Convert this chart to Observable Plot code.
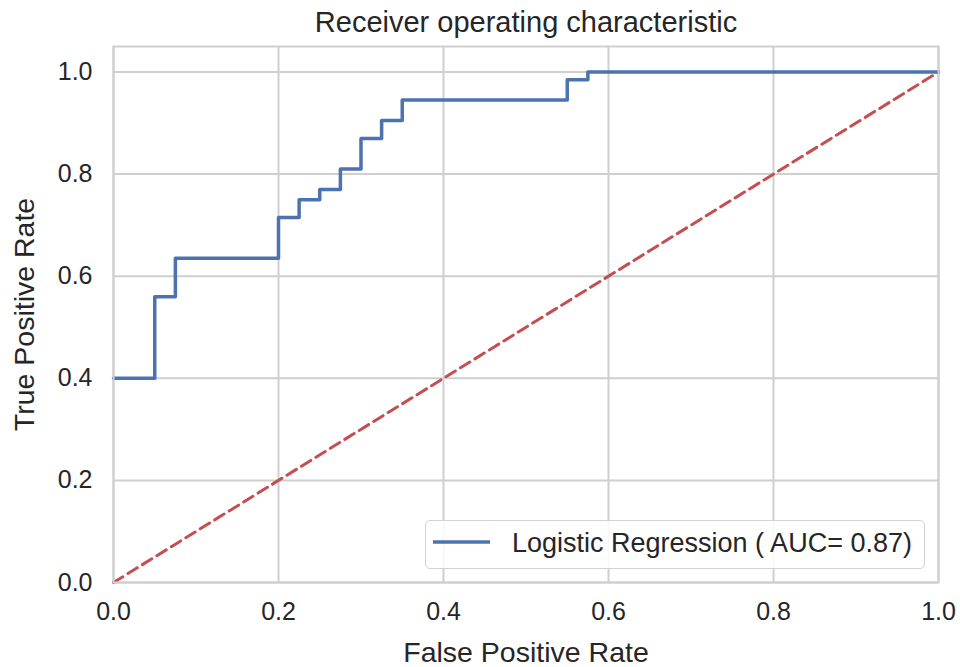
<!DOCTYPE html>
<html>
<head>
<meta charset="utf-8">
<script src="https://cdn.jsdelivr.net/npm/d3@7"></script>
<script src="https://cdn.jsdelivr.net/npm/@observablehq/plot@0.6"></script>
<style>
  html, body { margin: 0; padding: 0; background: #fff; }
  #wrap { position: relative; width: 960px; height: 667px; font-family: "Liberation Sans", Arial, sans-serif; color: #262626; }
  #legend { position: absolute; left: 425px; top: 520px; width: 498px; height: 47px; border: 1px solid #d2d2d2; border-radius: 5px; background: rgba(255,255,255,0.85); }
  #legend svg { position: absolute; left: 6px; top: 14px; }
  #legend span { position: absolute; left: 86px; top: 6px; font-size: 27px; line-height: 32px; white-space: nowrap; color: #262626; }
</style>
</head>
<body>
<div id="wrap"></div>
<script>
// ROC curve vertices (False Positive Rate, True Positive Rate)
const fpr = [0, 0.05, 0.075, 0.2, 0.225, 0.25, 0.275, 0.3, 0.325, 0.35, 0.55, 0.575, 1.0];
const tpr = [0.4, 0.56, 0.635, 0.715, 0.75, 0.77, 0.81, 0.87, 0.905, 0.945, 0.985, 1.0, 1.0];
// chance diagonal
const diagX = [0, 1];
const diagY = [0, 1];
const ticks = [0, 0.2, 0.4, 0.6, 0.8, 1.0];
const titleText = "Receiver operating characteristic";
const xLabel = "False Positive Rate";
const yLabel = "True Positive Rate";
const legendLabel = "Logistic Regression ( AUC= 0.87)";

const roc = fpr.map((x, i) => ({x, y: tpr[i]}));
const diag = diagX.map((x, i) => ({x, y: diagY[i]}));

const blue = "#4c72b0";
const red = "#c44e52";
const grid = "#cfcfcf";
const ink = "#262626";

const chart = Plot.plot({
  width: 960,
  height: 667,
  marginLeft: 113,
  marginRight: 22,
  marginTop: 46,
  marginBottom: 85,
  style: {fontFamily: "Liberation Sans, Arial, sans-serif", color: ink, background: "#fff"},
  x: {domain: [0, 1]},
  y: {domain: [0, 1.05]},
  marks: [
    Plot.gridX(ticks, {stroke: grid, strokeOpacity: 1, strokeWidth: 2}),
    Plot.gridY(ticks, {stroke: grid, strokeOpacity: 1, strokeWidth: 2}),
    Plot.axisX(ticks, {tickSize: 0, tickPadding: 20, fontSize: 25, tickFormat: d3.format(".1f"), label: null, fill: ink}),
    Plot.axisY(ticks, {tickSize: 0, tickPadding: 21, fontSize: 25, tickFormat: d3.format(".1f"), label: null, fill: ink}),
    Plot.line(diag, {x: "x", y: "y", stroke: red, strokeWidth: 3, strokeDasharray: "11,6"}),
    Plot.line(roc, {x: "x", y: "y", curve: "step-after", stroke: blue, strokeWidth: 3.5}),
    Plot.frame({stroke: grid, strokeWidth: 2}),
    Plot.text([titleText], {frameAnchor: "top", lineAnchor: "middle", dy: -24, fontSize: 29, fill: ink}),
    Plot.text([xLabel], {frameAnchor: "bottom", lineAnchor: "middle", dy: 70, fontSize: 28.5, fill: ink}),
    Plot.text([yLabel], {frameAnchor: "left", textAnchor: "middle", lineAnchor: "middle", dx: -89, rotate: -90, fontSize: 28.5, fill: ink})
  ]
});

const wrap = document.getElementById("wrap");
wrap.appendChild(chart);

const legend = document.createElement("div");
legend.id = "legend";
legend.innerHTML = `<svg width="60" height="14"><line x1="1" x2="58" y1="7" y2="7" stroke="${blue}" stroke-width="3.5"/></svg><span></span>`;
legend.querySelector("span").textContent = legendLabel;
wrap.appendChild(legend);
</script>
</body>
</html>
